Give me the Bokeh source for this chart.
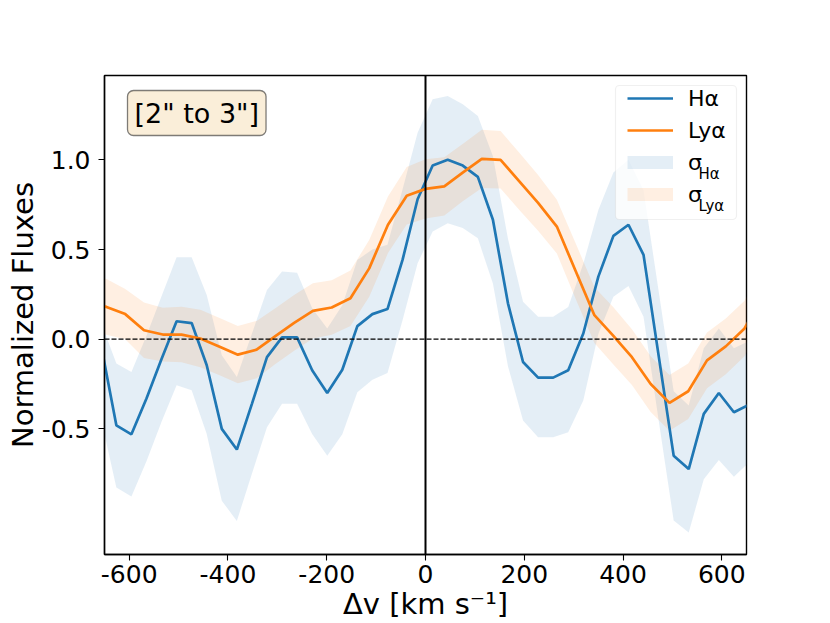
from bokeh.plotting import figure
from bokeh.models import (Range1d, FixedTicker, Span, Label, Legend, LegendItem,
                          NumeralTickFormatter, BoxAnnotation)
from bokeh.embed import file_html
from bokeh.resources import INLINE

# ---------------- data ----------------
vel_ha = [-656.5, -626, -595.5, -565, -534.5, -504, -473.5, -443, -412.5, -382,
          -351.5, -321, -290.5, -260, -229.5, -199, -168.5, -138, -107.5, -77,
          -46.5, -16, 14.5, 45, 75.5, 106, 136.5, 167, 197.5, 228,
          258.5, 289, 319.5, 350, 380.5, 411, 441.5, 472, 502.5, 533,
          563.5, 594, 624.5, 655]
flux_ha = [-0.04, -0.48, -0.53, -0.33, -0.11, 0.10, 0.09, -0.145, -0.50, -0.615,
           -0.36, -0.10, 0.01, 0.01, -0.173, -0.30, -0.17, 0.073, 0.14, 0.168,
           0.442, 0.78, 0.968, 1.0, 0.968, 0.905, 0.666, 0.20, -0.127, -0.214,
           -0.214, -0.173, 0.032, 0.349, 0.576, 0.638, 0.47, -0.09, -0.649, -0.724,
           -0.416, -0.30, -0.407, -0.365]
ha_hi = [0.09, -0.136, -0.183, 0.02, 0.24, 0.457, 0.457, 0.246, -0.09, -0.21,
         0.03, 0.274, 0.377, 0.371, 0.172, 0.06, 0.19, 0.442, 0.50, 0.526,
         0.834, 1.151, 1.337, 1.356, 1.31, 1.244, 1.02, 0.56, 0.209, 0.125,
         0.125, 0.18, 0.42, 0.72, 0.93, 1.0, 0.83, 0.27, -0.29, -0.37,
         -0.05, 0.06, -0.05, -0.01]
ha_lo = [-0.45, -0.826, -0.877, -0.68, -0.46, -0.257, -0.285, -0.528, -0.90, -1.013,
         -0.75, -0.49, -0.36, -0.36, -0.528, -0.65, -0.53, -0.295, -0.226, -0.188,
         0.106, 0.424, 0.60, 0.647, 0.62, 0.563, 0.31, -0.15, -0.453, -0.547,
         -0.547, -0.519, -0.341, 0.03, 0.237, 0.297, 0.125, -0.45, -1.01, -1.078,
         -0.78, -0.673, -0.767, -0.687]

vel_lya = [-684, -646, -608, -570, -532, -494, -456, -418, -380, -342,
           -304, -266, -228, -190, -152, -114, -76, -38, 0, 38,
           76, 114, 152, 190, 228, 266, 304, 342, 380, 418,
           456, 494, 532, 570, 608, 646, 684]
flux_lya = [0.20, 0.18, 0.14, 0.05, 0.026, 0.026, 0.004, -0.04, -0.086, -0.058,
            0.017, 0.091, 0.158, 0.177, 0.228, 0.395, 0.638, 0.80, 0.838, 0.852,
            0.93, 1.005, 1.0, 0.88, 0.76, 0.628, 0.38, 0.134, 0.02, -0.10,
            -0.25, -0.355, -0.29, -0.118, -0.04, 0.06, 0.25]
err_lya = [0.16, 0.155, 0.14, 0.155, 0.15, 0.155, 0.16, 0.16, 0.16, 0.16,
           0.155, 0.155, 0.154, 0.152, 0.155, 0.158, 0.158, 0.16, 0.165, 0.162,
           0.16, 0.162, 0.16, 0.16, 0.155, 0.15, 0.155, 0.155, 0.16, 0.155,
           0.155, 0.155, 0.155, 0.155, 0.155, 0.155, 0.155]

x_ticks = [-600, -400, -200, 0, 200, 400, 600]
y_ticks = [-0.5, 0.0, 0.5, 1.0]

label_ha = "Hα"
label_lya = "Lyα"
box_text = '[2" to 3"]'
x_title = "Δv [km s⁻¹]"
y_title = "Normalized Fluxes"

BLUE = "#1f77b4"
ORANGE = "#ff7f0e"
FONT = "DejaVu Sans"
NAN = float("nan")

# ---------------- figure ----------------
p = figure(width=830, height=623,
           x_range=Range1d(-650, 650), y_range=Range1d(-1.2, 1.47),
           output_backend="svg", toolbar_location=None,
           min_border_left=104, min_border_right=84,
           min_border_top=75, min_border_bottom=69)
p.background_fill_color = "white"
p.border_fill_color = "white"
p.outline_line_color = "black"
p.outline_line_width = 1.4
p.grid.visible = False

lya_lo = [f - e for f, e in zip(flux_lya, err_lya)]
lya_hi = [f + e for f, e in zip(flux_lya, err_lya)]

p.varea(x=vel_ha, y1=ha_lo, y2=ha_hi, fill_color=BLUE, fill_alpha=0.12)
p.varea(x=vel_lya, y1=lya_lo, y2=lya_hi, fill_color=ORANGE, fill_alpha=0.12)

r_ha = p.line(vel_ha, flux_ha, line_color=BLUE, line_width=2.7)
r_lya = p.line(vel_lya, flux_lya, line_color=ORANGE, line_width=2.7)

p.add_layout(Span(location=0, dimension="width", line_color="black",
                  line_width=1.3, line_dash="5 2"))
p.add_layout(Span(location=0, dimension="height", line_color="black",
                  line_width=2))

# legend frame (semi-transparent white, like the original legend box)
p.add_layout(BoxAnnotation(left=511, right=632, bottom=335, top=469,
                           left_units="screen", right_units="screen",
                           bottom_units="screen", top_units="screen",
                           fill_color="white", fill_alpha=0.8,
                           line_color="#cccccc", line_width=1.2,
                           border_radius=4))

# legend proxies for the bands (NaN data: not drawn in the plot)
r_sha = p.line(x=[NAN], y=[NAN], line_color=BLUE, line_alpha=0.12,
               line_width=13, line_cap="butt")
r_slya = p.line(x=[NAN], y=[NAN], line_color=ORANGE, line_alpha=0.12,
                line_width=13, line_cap="butt")

legend = Legend(items=[LegendItem(label=label_ha, renderers=[r_ha]),
                       LegendItem(label=label_lya, renderers=[r_lya]),
                       LegendItem(label="σ", renderers=[r_sha]),
                       LegendItem(label="σ", renderers=[r_slya])],
                location="top_right", margin=10, padding=6, spacing=6,
                glyph_width=46, glyph_height=26, label_height=26,
                label_width=48, label_standoff=15,
                label_text_font=FONT, label_text_font_size="22px",
                label_text_color="black",
                border_line_color=None,
                background_fill_color="white", background_fill_alpha=0.0)
p.add_layout(legend)

for txt, yy in ((label_ha, 381), (label_lya, 349)):
    p.add_layout(Label(x=594, y=yy, x_units="screen", y_units="screen",
                       text=txt, text_font=FONT, text_font_size="15px",
                       text_align="left", text_baseline="alphabetic",
                       text_color="black"))

p.add_layout(Label(x=23, y=464, x_units="screen", y_units="screen",
                   text=box_text, text_font=FONT, text_font_size="27px",
                   text_align="left", text_baseline="top", text_color="black",
                   background_fill_color="wheat", background_fill_alpha=0.5,
                   border_line_color="black", border_line_alpha=0.5,
                   border_line_width=1.3, padding=7, border_radius=6))

# axes
for ax in (p.xaxis[0], p.yaxis[0]):
    ax.axis_line_color = "black"
    ax.axis_line_width = 1.4
    ax.major_tick_line_color = "black"
    ax.major_tick_line_width = 1.1
    ax.major_tick_in = 0
    ax.major_tick_out = 6
    ax.minor_tick_line_color = None
    ax.major_label_text_font = FONT
    ax.major_label_text_font_size = "25px"
    ax.major_label_text_color = "black"
    ax.axis_label_text_font = FONT
    ax.axis_label_text_font_size = "29px"
    ax.axis_label_text_font_style = "normal"
    ax.axis_label_text_color = "black"

p.xaxis.ticker = FixedTicker(ticks=x_ticks)
p.yaxis.ticker = FixedTicker(ticks=y_ticks)
p.xaxis.formatter = NumeralTickFormatter(format="0")
p.yaxis.formatter = NumeralTickFormatter(format="0.0")
p.xaxis.axis_label = x_title
p.yaxis.axis_label = y_title
p.xaxis.major_label_standoff = 4
p.xaxis.axis_label_standoff = 1
p.yaxis.major_label_standoff = 8
p.yaxis.axis_label_standoff = -1

open("out.html", "w").write(file_html(p, INLINE))
